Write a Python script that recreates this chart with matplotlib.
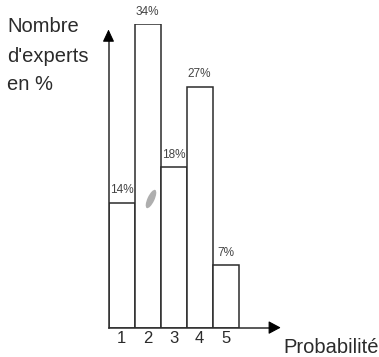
import matplotlib.pyplot as plt
from matplotlib.patches import Ellipse

# Répartition des experts selon la probabilité estimée
probabilites = [1, 2, 3, 4, 5]
pourcentages = [14, 34, 18, 27, 7]
etiquettes = ["14%", "34%", "18%", "27%", "7%"]

plt.rcParams["font.family"] = ["Liberation Sans", "DejaVu Sans"]

encre = "#2b2b2b"

fig = plt.figure(figsize=(3.79, 3.57), dpi=100)
ax = fig.add_axes([108.5 / 379, (357 - 327.6) / 357,
                   (283 - 108.5) / 379, (327.6 - 24) / 357])
ax.set_xlim(0.5, 7.21)
ax.set_ylim(0, 34)
ax.axis("off")

ax.bar(probabilites, pourcentages, width=1.0, facecolor="white",
       edgecolor=encre, linewidth=1.1, zorder=2)

for x, v, txt in zip(probabilites, pourcentages, etiquettes):
    ax.annotate(txt, (x, v), xytext=(0, 4.5), textcoords="offset points",
                ha="center", va="bottom", fontsize=8.5, color="#444444")

# axes fléchés
ax.plot([0.5, 0.5], [0, 32.5], color=encre, lw=1.1, clip_on=False, zorder=3)
ax.plot([0.5, 6.8], [0, 0], color=encre, lw=1.1, clip_on=False, zorder=3)
ax.annotate("", xy=(0.5, 33.7), xytext=(0.5, 32.4),
            arrowprops=dict(arrowstyle="-|>,head_length=0.75,head_width=0.35",
                            color="black", lw=0.8), annotation_clip=False)
ax.annotate("", xy=(7.23, 0), xytext=(6.8, 0),
            arrowprops=dict(arrowstyle="-|>,head_length=0.75,head_width=0.4",
                            color="black", lw=0.8), annotation_clip=False)

for x in probabilites:
    ax.annotate(str(x), (x, 0), xytext=(0, -7.5), textcoords="offset points",
                ha="center", va="center", fontsize=12, color=encre,
                annotation_clip=False)

fig.text(283 / 379, 4 / 357, "Probabilité", fontsize=14.5, color=encre,
         ha="left", va="baseline")
for ligne, base in zip(["Nombre", "d'experts", "en %"], [32, 62, 90]):
    fig.text(7 / 379, (357 - base) / 357, ligne, fontsize=14.5, color=encre,
             ha="left", va="baseline")

# petite tache grise sur la deuxième barre
fig.patches.append(Ellipse((1.51, 1.58), 0.20, 0.07, angle=65,
                           transform=fig.dpi_scale_trans,
                           facecolor="#9a9a9a", edgecolor="none", alpha=0.8))

fig.savefig("out.png", dpi=100)
